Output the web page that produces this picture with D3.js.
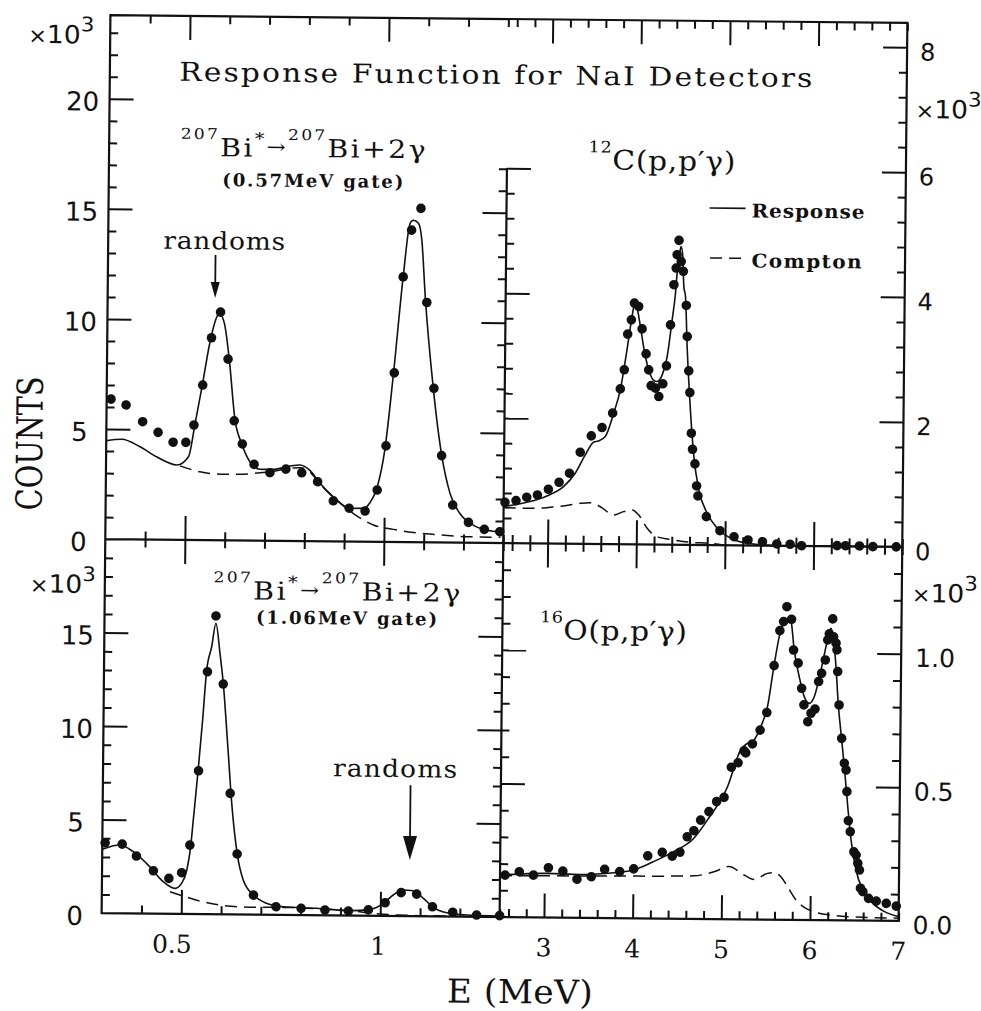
<!DOCTYPE html>
<html>
<head>
<meta charset="utf-8">
<script src="https://cdn.jsdelivr.net/npm/d3@7"></script>
<style>
  html, body { margin: 0; padding: 0; background: #fff; }
  svg { display: block; }
  .frame { fill: none; stroke: #111; stroke-width: 2.2; }
  .ticks line { stroke: #111; stroke-width: 2; }
  .fit { fill: none; stroke: #111; stroke-width: 1.6; }
  .compton { fill: none; stroke: #111; stroke-width: 1.5; stroke-dasharray: 12 7; }
  .dot { fill: #111; }
  .serif { font-family: 'DejaVu Serif', serif; fill: #111; }
  .sans { font-family: 'DejaVu Sans', sans-serif; fill: #111; }
</style>
</head>
<body>
<svg id="chart" width="981" height="1011"></svg>
<script>
// Energies in MeV, counts in units of 10^3.

// 207Bi* -> 207Bi + 2 gamma, 0.57 MeV gate
const bi057E = [0.311,0.349,0.391,0.430,0.468,0.500,0.520,0.541,0.562,0.584,0.604,0.621,0.642,0.672,0.712,0.752,0.792,0.832,0.872,0.912,0.952,0.982,1.003,1.022,1.042,1.062,1.085,1.102,1.122,1.143,1.172,1.212,1.252,1.291];
const bi057Counts = [6.36,6.10,5.35,4.87,4.43,4.43,5.22,7.04,9.19,10.36,8.23,5.43,4.38,3.46,3.09,3.26,3.10,2.70,1.84,1.51,1.39,2.35,4.36,7.68,12.04,14.17,15.16,10.89,6.99,3.94,1.70,0.92,0.61,0.51];
const bi057FitE = [0.300,0.339,0.385,0.427,0.478,0.507,0.523,0.540,0.560,0.577,0.581,0.594,0.607,0.623,0.640,0.662,0.687,0.720,0.762,0.787,0.813,0.838,0.872,0.914,0.947,0.964,0.981,1.000,1.020,1.042,1.058,1.066,1.079,1.088,1.098,1.120,1.143,1.165,1.190,1.224,1.258,1.296];
const bi057Fit = [4.47,4.54,4.21,3.76,3.40,3.78,5.31,7.04,9.16,10.22,10.30,9.85,8.23,5.47,4.41,3.56,3.24,3.24,3.40,3.45,3.20,2.63,2.02,1.51,1.51,1.77,2.43,4.17,7.65,12.04,14.47,14.62,14.48,13.72,11.14,7.06,3.97,2.23,1.33,0.80,0.58,0.49];
const bi057ComptonE = [0.486,0.536,0.586,0.636,0.686,0.720,0.760,0.790,0.813,0.838,0.872,0.922,0.973,1.023,1.074,1.124,1.175,1.209,1.293];
const bi057Compton = [3.36,3.10,3.00,3.00,3.08,3.15,3.30,3.33,3.12,2.60,2.00,1.28,0.76,0.57,0.44,0.36,0.30,0.27,0.26];

// 207Bi* -> 207Bi + 2 gamma, 1.06 MeV gate
const bi106E = [0.307,0.350,0.386,0.429,0.468,0.500,0.520,0.540,0.560,0.580,0.600,0.620,0.639,0.681,0.738,0.801,0.861,0.920,0.970,1.012,1.052,1.091,1.131,1.182,1.242,1.300];
const bi106Counts = [3.76,3.70,3.07,2.29,1.89,2.20,3.68,7.66,12.96,15.95,12.31,6.47,3.23,1.04,0.43,0.36,0.28,0.24,0.31,0.70,1.25,1.18,0.51,0.23,0.09,0.07];
const bi106FitE = [0.300,0.344,0.378,0.420,0.454,0.484,0.500,0.513,0.522,0.528,0.539,0.549,0.558,0.570,0.580,0.591,0.600,0.613,0.625,0.639,0.655,0.681,0.714,0.756,0.840,0.924,0.974,1.008,1.032,1.057,1.082,1.108,1.133,1.167,1.217,1.300];
const bi106Fit = [3.41,3.65,3.30,2.50,1.71,1.36,1.63,2.35,3.59,5.03,7.70,10.38,13.05,14.30,15.56,13.95,12.35,8.96,5.75,3.27,1.84,1.04,0.61,0.43,0.37,0.26,0.34,0.67,1.12,1.39,1.36,0.96,0.48,0.20,0.09,0.05];
const bi106ComptonE = [0.471,0.496,0.546,0.597,0.647,0.698,0.756,0.840,0.920,0.999,1.100,1.300];
const bi106Compton = [1.18,1.01,0.70,0.49,0.41,0.39,0.40,0.35,0.26,0.10,0.03,0.02];

// 12C(p,p'gamma)
const c12E = [2.515,2.639,2.760,2.880,3.003,3.123,3.239,3.358,3.481,3.601,3.719,3.803,3.846,3.880,3.920,3.953,4.001,4.042,4.090,4.121,4.150,4.199,4.238,4.282,4.321,4.362,4.396,4.420,4.429,4.449,4.476,4.501,4.538,4.552,4.573,4.588,4.609,4.624,4.653,4.674,4.690,4.787,4.942,5.102,5.260,5.423,5.585,5.735,5.864,6.265,6.359,6.517,6.669,6.932];
const c12Counts = [0.652,0.680,0.736,0.774,0.867,0.981,1.127,1.465,1.729,1.864,2.096,2.486,2.792,3.364,3.593,3.862,3.808,3.450,3.051,2.795,2.543,2.503,2.369,2.574,2.862,3.519,4.162,4.429,4.643,4.872,4.535,4.377,3.832,3.335,2.785,2.438,1.787,1.530,1.297,0.944,0.784,0.454,0.231,0.136,0.087,0.061,0.027,0.024,0.003,0.010,0.010,0.008,0.000,0.000];
const c12FitE = [2.500,2.610,2.798,2.986,3.173,3.304,3.415,3.507,3.563,3.639,3.731,3.803,3.874,3.928,3.956,3.983,4.023,4.071,4.121,4.173,4.218,4.274,4.328,4.380,4.415,4.431,4.458,4.473,4.493,4.508,4.528,4.552,4.588,4.640,4.700,4.797,4.913,5.065,5.254,5.631,7.000];
const c12Fit = [0.582,0.611,0.667,0.760,0.912,1.128,1.423,1.628,1.649,1.720,2.096,2.470,3.112,3.647,3.862,3.782,3.487,3.088,2.795,2.636,2.609,2.716,3.011,3.599,4.029,4.349,4.670,4.776,4.615,4.136,3.976,3.175,2.320,1.413,0.880,0.508,0.269,0.111,0.034,0.000,0.000];
const c12ComptonE = [2.500,2.761,2.987,3.175,3.363,3.476,3.591,3.742,3.854,3.949,4.025,4.121,4.235,4.423,4.612,4.838,5.000];
const c12Compton = [0.566,0.559,0.572,0.603,0.647,0.659,0.596,0.466,0.521,0.550,0.470,0.258,0.125,0.075,0.040,0.027,0.000];

// 16O(p,p'gamma)
const o16E = [2.557,2.717,2.877,3.045,3.208,3.368,3.529,3.679,3.849,4.007,4.164,4.327,4.440,4.526,4.607,4.681,4.756,4.849,4.935,5.018,5.097,5.172,5.239,5.258,5.332,5.417,5.491,5.568,5.629,5.670,5.706,5.760,5.786,5.839,5.881,5.908,5.954,5.989,6.034,6.072,6.105,6.145,6.170,6.187,6.224,6.236,6.264,6.275,6.286,6.305,6.338,6.371,6.391,6.403,6.422,6.445,6.488,6.514,6.534,6.553,6.566,6.594,6.658,6.746,6.859,6.972];
const o16Counts = [0.157,0.170,0.158,0.186,0.174,0.144,0.154,0.182,0.174,0.185,0.234,0.248,0.234,0.249,0.307,0.330,0.370,0.402,0.440,0.456,0.569,0.586,0.631,0.623,0.657,0.709,0.775,0.951,1.082,1.116,1.172,1.125,1.010,0.961,0.867,0.805,0.742,0.774,0.790,0.893,0.924,0.974,1.049,1.072,1.128,1.061,1.037,1.012,0.931,0.806,0.681,0.588,0.563,0.482,0.373,0.332,0.257,0.245,0.214,0.189,0.121,0.108,0.083,0.073,0.065,0.055];
const o16FitE = [2.500,3.028,3.405,3.782,4.007,4.231,4.456,4.682,4.833,5.056,5.200,5.275,5.350,5.424,5.498,5.568,5.640,5.696,5.733,5.752,5.793,5.852,5.911,5.968,6.024,6.097,6.151,6.187,6.205,6.236,6.266,6.295,6.330,6.371,6.414,6.455,6.514,6.593,6.688,6.840,7.000];
const o16Fit = [0.157,0.165,0.162,0.170,0.181,0.213,0.251,0.302,0.371,0.496,0.634,0.659,0.672,0.722,0.797,0.953,1.085,1.122,1.129,1.122,1.010,0.911,0.836,0.811,0.836,0.936,1.024,1.080,1.093,1.049,0.949,0.812,0.700,0.575,0.426,0.301,0.189,0.114,0.071,0.034,0.016];
const o16ComptonE = [2.500,4.047,4.386,4.687,4.912,5.081,5.252,5.365,5.516,5.590,5.667,5.744,5.839,5.934,6.047,6.237,6.426,7.000];
const o16Compton = [0.155,0.158,0.159,0.161,0.177,0.197,0.166,0.150,0.173,0.176,0.161,0.124,0.075,0.047,0.031,0.019,0.014,0.010];

// "randoms" arrows: energy, arrow start and tip (10^3 counts)
const randoms057Arrow = [0.57, 12.95, 11.0];
const randoms106Arrow = [1.073, 7.0, 3.0];

// tick labels
const lowEnergyLabels = [0.5, 1];
const highEnergyLabels = [3, 4, 5, 6, 7];
const bi057CountLabels = [0, 5, 10, 15, 20];
const bi106CountLabels = [0, 5, 10, 15];
const c12CountLabels = [0, 2, 4, 6, 8];
const o16CountLabels = [0.0, 0.5, 1.0];

// ---------- layout ----------
const F = { left: 106, split: 504, right: 903, top: 19, mid: 543, bottom: 917 };

const xLow  = d3.scaleLinear().domain([0.3, 1.3]).range([F.left, F.split]);
const xHigh = d3.scaleLinear().domain([2.5, 7.0]).range([F.split, F.right]);
const yBi057 = d3.scaleLinear().domain([0, 23.8]).range([F.mid, F.top]);
const yBi106 = d3.scaleLinear().domain([0, 20]).range([F.bottom, F.mid]);
const yC12   = d3.scaleLinear().domain([0, 8.39]).range([F.mid, F.top]);
const yO16   = d3.scaleLinear().domain([0, 1.4]).range([F.bottom, F.mid]);

const svg = d3.select("#chart");
svg.append("rect").attr("width", 981).attr("height", 1011).attr("fill", "#fff");
// the whole figure sits slightly tilted on the page
const root = svg.append("g").attr("transform", "rotate(0.56,504,468)");

// ---------- ticks ----------
const MAJOR = 24, MINOR = 8;
const near = (a, b) => Math.abs(a - b) < 1e-6;
function split(values, majors) {
  return [values.filter(v => majors.some(m => near(m, v))),
          values.filter(v => !majors.some(m => near(m, v)))];
}
function tickRow(axisGen, scale, values, majors, tx, ty) {
  const [maj, min] = split(values, majors);
  [[maj, MAJOR], [min, MINOR]].forEach(([vals, size]) => {
    root.append("g").attr("class", "ticks")
      .attr("transform", `translate(${tx},${ty})`)
      .call(axisGen(scale).tickValues(vals).tickSize(size).tickSizeOuter(0).tickFormat(""))
      .call(g => g.select(".domain").remove())
      .call(g => g.selectAll("text").remove());
  });
}

const lowTicks  = d3.range(4, 14).map(i => i / 10);     // 0.4 ... 1.3
const lowMajors = [0.5, 1.0];
const highTicks = d3.range(13, 36).map(i => i / 5);     // 2.6 ... 7.0
const highMajors = [3, 4, 5, 6];

// energy ticks: top edge, middle divider (both sides), bottom edge
tickRow(d3.axisBottom, xLow, lowTicks, lowMajors, 0, F.top);
tickRow(d3.axisBottom, xHigh, highTicks, highMajors, 0, F.top);
tickRow(d3.axisTop, xLow, lowTicks, lowMajors, 0, F.mid);
tickRow(d3.axisBottom, xLow, lowTicks, lowMajors, 0, F.mid);
tickRow(d3.axisTop, xHigh, highTicks, highMajors, 0, F.mid);
tickRow(d3.axisBottom, xHigh, highTicks, highMajors, 0, F.mid);
tickRow(d3.axisTop, xLow, lowTicks, lowMajors, 0, F.bottom);
tickRow(d3.axisTop, xHigh, highTicks, highMajors, 0, F.bottom);

// count ticks
const bi057Ticks = d3.range(1, 24);
const bi106Ticks = d3.range(1, 20);
const c12Ticks = d3.range(1, 21).map(i => i * 0.4);
const o16Ticks = d3.range(1, 14).map(i => i / 10);
tickRow(d3.axisRight, yBi057, bi057Ticks, [5, 10, 15, 20], F.left, 0);
tickRow(d3.axisLeft, yBi057, bi057Ticks.filter(v => yBi057(v) > yC12(6)), [5, 10, 15], F.split, 0);
tickRow(d3.axisRight, yBi106, bi106Ticks, [5, 10, 15], F.left, 0);
tickRow(d3.axisLeft, yBi106, bi106Ticks, [5, 10, 15], F.split, 0);
tickRow(d3.axisLeft, yC12, c12Ticks, [2, 4, 6, 8], F.right, 0);
tickRow(d3.axisRight, yC12, c12Ticks.filter(v => v <= 6 + 1e-9), [2, 4, 6], F.split, 0);
tickRow(d3.axisLeft, yO16, o16Ticks, [0.5, 1.0], F.right, 0);
tickRow(d3.axisRight, yO16, o16Ticks, [0.5, 1.0], F.split, 0);

// ---------- frame ----------
const framePath = d3.path();
framePath.rect(F.left, F.top, F.right - F.left, F.bottom - F.top);
framePath.moveTo(F.left, F.mid); framePath.lineTo(F.right, F.mid);
framePath.moveTo(F.split, yC12(6)); framePath.lineTo(F.split, F.bottom);
root.append("path").attr("class", "frame").attr("d", framePath.toString());

// ---------- spectra ----------
function panel(xs, ys, e, c, fitE, fit, compE, comp) {
  const g = root.append("g");
  const line = d3.line().x(d => xs(d[0])).y(d => ys(d[1])).curve(d3.curveMonotoneX);
  g.append("path").attr("class", "compton").attr("d", line(d3.zip(compE, comp)));
  g.append("path").attr("class", "fit").attr("d", line(d3.zip(fitE, fit)));
  g.selectAll("circle").data(d3.zip(e, c)).join("circle")
    .attr("class", "dot").attr("r", 4.8)
    .attr("cx", d => xs(d[0])).attr("cy", d => ys(d[1]));
}
panel(xLow, yBi057, bi057E, bi057Counts, bi057FitE, bi057Fit, bi057ComptonE, bi057Compton);
panel(xLow, yBi106, bi106E, bi106Counts, bi106FitE, bi106Fit, bi106ComptonE, bi106Compton);
panel(xHigh, yC12, c12E, c12Counts, c12FitE, c12Fit, c12ComptonE, c12Compton);
panel(xHigh, yO16, o16E, o16Counts, o16FitE, o16Fit, o16ComptonE, o16Compton);

// ---------- arrows ----------
function arrow(xs, ys, spec, headLen, headHalf) {
  const x = xs(spec[0]), y0 = ys(spec[1]), y1 = ys(spec[2]);
  root.append("line").attr("x1", x).attr("x2", x).attr("y1", y0).attr("y2", y1 - headLen + 2)
    .attr("stroke", "#111").attr("stroke-width", 1.8);
  root.append("path").attr("fill", "#111")
    .attr("d", `M${x - headHalf},${y1 - headLen}L${x + headHalf},${y1 - headLen}L${x},${y1}Z`);
}
arrow(xLow, yBi057, randoms057Arrow, 16, 4.5);
arrow(xLow, yBi106, randoms106Arrow, 24, 7);

// ---------- axis labels ----------
const fmt1 = d3.format(".1f");
root.append("g").selectAll("text").data(bi057CountLabels).join("text")
  .attr("class", "sans").attr("font-size", 26).attr("text-anchor", "middle")
  .attr("x", F.left - 27).attr("y", d => yBi057(d) + 12).text(d => d);
root.append("g").selectAll("text").data(bi106CountLabels).join("text")
  .attr("class", "sans").attr("font-size", 26).attr("text-anchor", "middle")
  .attr("x", F.left - 27).attr("y", d => yBi106(d) + 12).text(d => d);
root.append("g").selectAll("text").data(c12CountLabels).join("text")
  .attr("class", "sans").attr("font-size", 24).attr("text-anchor", "start")
  .attr("x", F.right + 13).attr("y", d => yC12(d) + 13).text(d => d);
root.append("g").selectAll("text").data(o16CountLabels).join("text")
  .attr("class", "sans").attr("font-size", 25).attr("text-anchor", "start")
  .attr("x", F.right + 14).attr("y", d => yO16(d) + 13).text(d => fmt1(d));
root.append("g").selectAll("text").data(lowEnergyLabels).join("text")
  .attr("class", "serif").attr("font-size", 25).attr("text-anchor", "middle")
  .attr("x", d => xLow(d) + (d < 1 ? -9 : -2)).attr("y", F.bottom + 39).text(d => d);
root.append("g").selectAll("text").data(highEnergyLabels).join("text")
  .attr("class", "serif").attr("font-size", 25).attr("text-anchor", "middle")
  .attr("x", d => xHigh(d)).attr("y", F.bottom + 39).text(d => d);

// x10^3 multipliers
function multiplier(x, y) {
  const t = root.append("text").attr("class", "sans").attr("font-size", 25).attr("x", x).attr("y", y)
    .attr("textLength", 66).attr("lengthAdjust", "spacingAndGlyphs");
  t.append("tspan").attr("font-size", 21).text("×");
  t.append("tspan").text("10");
  t.append("tspan").attr("font-size", 20).attr("dy", -12).text("3");
}
multiplier(24, 47.5);
multiplier(31, 597);
multiplier(912, 114);
multiplier(913, 598);

root.append("text").attr("class", "serif").attr("font-size", 36)
  .attr("text-anchor", "middle")
  .attr("transform", "translate(42,448) rotate(-90)")
  .attr("textLength", 134).attr("lengthAdjust", "spacingAndGlyphs")
  .text("COUNTS");

// ---------- titles and annotations ----------
// serif label, horizontally widened by `stretch`, total width `width`
function label(x, y, parts, size, width, stretch, weight) {
  const t = root.append("text").attr("class", "serif").attr("font-size", size)
    .attr("text-anchor", "middle")
    .attr("transform", `translate(${x},${y}) scale(${stretch},1)`)
    .attr("textLength", width / stretch).attr("lengthAdjust", "spacing");
  if (weight) t.attr("font-weight", weight);
  let raised = 0;
  parts.forEach(p => {
    const r = p.raise || 0;
    const s = t.append("tspan").text(p.text);
    if (r !== raised) s.attr("dy", raised - r);
    if (p.size) s.attr("font-size", p.size);
    raised = r;
  });
  return t;
}

label(525, 1003, [{ text: "E (MeV)" }], 33, 146, 1.04);
label(492, 84, [{ text: "Response Function for NaI Detectors" }], 26, 633, 1.14);

const biReaction = [
  { text: "207", size: 15, raise: 17 }, { text: "Bi" }, { text: "*", size: 17, raise: 12 },
  { text: "→", size: 20, raise: 3 }, { text: "207", size: 15, raise: 17 }, { text: "Bi+2" },
  { text: "γ" }
];
label(300, 159, biReaction, 25, 245, 1.14);
label(310, 189, [{ text: "(0.57MeV gate)" }], 18, 181, 1.0, "bold");
label(338, 602, biReaction, 25, 247, 1.14);
label(348, 626, [{ text: "(1.06MeV gate)" }], 18, 181, 1.0, "bold");
label(659, 168.5, [{ text: "12", size: 16, raise: 17 }, { text: "C(p,p′γ)" }], 27, 147, 1.1);
label(615, 639, [{ text: "16", size: 16, raise: 17 }, { text: "O(p,p′γ)" }], 27, 147, 1.1);

label(222, 252, [{ text: "randoms" }], 24, 122, 1.1);
label(398, 778, [{ text: "randoms" }], 24, 124, 1.1);

// legend
root.append("line").attr("class", "fit").attr("x1", 707).attr("x2", 743).attr("y1", 206).attr("y2", 206);
root.append("line").attr("class", "compton").attr("x1", 708).attr("x2", 744).attr("y1", 256).attr("y2", 256);
label(805.5, 215, [{ text: "Response" }], 19, 113, 1.05, "bold");
label(804.5, 265, [{ text: "Compton" }], 19, 110, 1.05, "bold");
</script>
</body>
</html>
